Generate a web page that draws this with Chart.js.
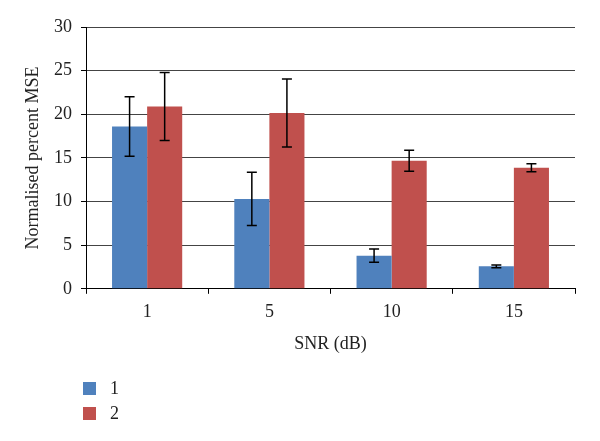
<!DOCTYPE html>
<html>
<head>
<meta charset="utf-8">
<script src="https://cdn.jsdelivr.net/npm/chart.js@4"></script>
<style>
  html, body { margin: 0; padding: 0; background: #fff; }
  #wrap { position: relative; width: 600px; height: 441px; }
  #legend { position: absolute; left: 83px; top: 376px; font-family: "Liberation Serif", serif; font-size: 18px; color: #222; }
  #legend .item { display: flex; align-items: center; height: 25px; }
  #legend .box { width: 13px; height: 13px; margin-right: 14px; }
</style>
</head>
<body>
<div id="wrap">
  <canvas id="myChart" width="600" height="441"></canvas>
  <div id="legend"></div>
</div>
<script>
var categories = ['1', '5', '10', '15'];
var seriesNames = ['1', '2'];
var series1 = [18.6, 10.3, 3.8, 2.57];
var series2 = [20.9, 20.15, 14.67, 13.87];
var errors1 = [3.4, 3.05, 0.77, 0.17];
var errors2 = [3.9, 3.9, 1.2, 0.45];
var colors = ['#4F81BD', '#C0504D'];

var errorBars = {
    id: 'errorBars',
    afterDatasetsDraw: function(chart) {
        var ctx = chart.ctx;
        var yScale = chart.scales.y;
        ctx.save();
        ctx.strokeStyle = '#000';
        ctx.lineWidth = 1.5;
        chart.data.datasets.forEach(function(ds, di) {
            var meta = chart.getDatasetMeta(di);
            meta.data.forEach(function(bar, i) {
                var v = ds.data[i], e = ds.errors[i];
                var yTop = yScale.getPixelForValue(v + e);
                var yBot = yScale.getPixelForValue(v - e);
                var x = bar.x;
                ctx.beginPath();
                ctx.moveTo(x, yTop); ctx.lineTo(x, yBot);
                ctx.moveTo(x - 5, yTop); ctx.lineTo(x + 5, yTop);
                ctx.moveTo(x - 5, yBot); ctx.lineTo(x + 5, yBot);
                ctx.stroke();
            });
        });
        ctx.restore();
    }
};

var font = { family: '"Liberation Serif", serif', size: 18 };

var barChart = document.getElementById('myChart');
new Chart(barChart, {
    type: 'bar',
    data: {
        labels: categories,
        datasets: [{
            label: seriesNames[0],
            data: series1,
            errors: errors1,
            backgroundColor: colors[0],
            categoryPercentage: 0.574,
            barPercentage: 1
        }, {
            label: seriesNames[1],
            data: series2,
            errors: errors2,
            backgroundColor: colors[1],
            categoryPercentage: 0.574,
            barPercentage: 1
        }]
    },
    options: {
        responsive: false,
        animation: false,
        layout: { padding: { top: 27, right: 25, bottom: 78, left: 0 } },
        scales: {
            y: {
                min: 0,
                max: 30,
                afterFit: function(scale) { scale.width = 86; },
                ticks: { stepSize: 5, color: '#222', font: font, padding: 9 },
                grid: { color: '#444', lineWidth: 1, tickLength: 5, tickColor: '#000' },
                border: { color: '#000', width: 1 },
                title: { display: true, text: 'Normalised percent MSE', color: '#222', font: font, padding: { top: 22, bottom: 0 } }
            },
            x: {
                ticks: { color: '#222', font: font, padding: 8 },
                grid: {
                    offset: true,
                    color: function(c) { return c.index === categories.length ? '#000' : 'rgba(0,0,0,0)'; },
                    tickColor: '#000',
                    tickLength: 5
                },
                border: { color: '#000', width: 1 },
                title: { display: true, text: 'SNR (dB)', color: '#222', font: font, padding: { top: 2, bottom: 8 } }
            }
        },
        plugins: {
            legend: { display: false },
            tooltip: { enabled: false }
        }
    },
    plugins: [errorBars]
});

var legendEl = document.getElementById('legend');
seriesNames.forEach(function(name, i) {
    var item = document.createElement('div');
    item.className = 'item';
    var box = document.createElement('span');
    box.className = 'box';
    box.style.background = colors[i];
    var txt = document.createElement('span');
    txt.textContent = name;
    item.appendChild(box);
    item.appendChild(txt);
    legendEl.appendChild(item);
});
</script>
</body>
</html>
